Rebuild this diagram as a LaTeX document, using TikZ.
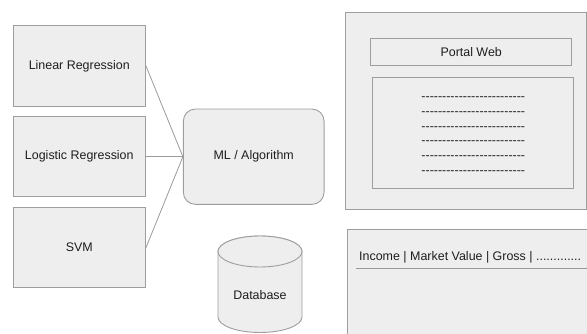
\documentclass[tikz,border=0pt]{standalone}
\usepackage{fontspec}
\newfontfamily\arialfont{Liberation Sans}
\definecolor{boxfill}{HTML}{EEEEEE}
\definecolor{boxline}{HTML}{9E9E9E}
\definecolor{wire}{HTML}{9A9A9A}
\definecolor{txt}{HTML}{1E1E1E}
\begin{document}
\begin{tikzpicture}[x=1pt,y=-1pt,
  every node/.style={font=\arialfont\fontsize{12.45}{14}\selectfont, text=txt, inner sep=0pt},
  panel/.style={draw=boxline, fill=boxfill, line width=0.9pt},
  algobox/.style={panel, minimum width=132.4pt, minimum height=80.3pt},
  connector/.style={draw=wire, line width=0.8pt},
  dashrow/.style={anchor=base}]
  \useasboundingbox (0,0) rectangle (587,334);
  \clip (0,0) rectangle (587,334);

  % algorithm boxes on the left
  \node[algobox] (lin) at (79.3,65.9) {Linear Regression};
  \node[algobox] (log) at (79.3,156.7) {Logistic Regression};
  \node[algobox] (svm) at (79.3,247.7) {SVM};

  % central ML block
  \node[panel, rounded corners=12pt, minimum width=140.7pt, minimum height=95.3pt] (ml) at (253.7,156.7) {ML / Algorithm};

  \draw[connector] (lin.east) -- (ml.west);
  \draw[connector] (log.east) -- (ml.west);
  \draw[connector] (svm.east) -- (ml.west);

  % database cylinder (radii in canvas units, so the bottom arc bulges downwards)
  \filldraw[panel] (218,251.5) -- (218,317) arc[start angle=180, end angle=360, x radius=42pt, y radius=15.5pt] -- (302,251.5) arc[start angle=0, end angle=180, x radius=42pt, y radius=15.5pt] -- cycle;
  \draw[panel] (260,251.5) ellipse[x radius=42pt, y radius=15.5pt];
  \node (db) at (260,295.5) {Database};

  % web portal panel
  \node[panel, minimum width=240.3pt, minimum height=196.7pt] (portal) at (465.85,110.65) {};
  \node[panel, minimum width=201pt, minimum height=27.4pt] (title) at (471.2,52) {Portal Web};
  \node[panel, minimum width=201.4pt, minimum height=111pt] (listbox) at (473,132.8) {};
  \foreach \i/\yy in {1/100.7, 2/115.5, 3/130.1, 4/144.7, 5/159.4, 6/174.1}
    \node[dashrow] (row\i) at (473.3,\yy) {-------------------------};

  % report panel
  \node[panel, anchor=north west, minimum width=260pt, minimum height=130pt] (report) at (346.7,229.3) {};
  \node[anchor=base west] (header) at (359,260) {Income | Market Value | Gross | .............};
  \coordinate (ruleL) at (355.7,268.3);
  \coordinate (ruleR) at (600,268.3);
  \draw[connector] (ruleL) -- (ruleR);
\end{tikzpicture}
\end{document}
